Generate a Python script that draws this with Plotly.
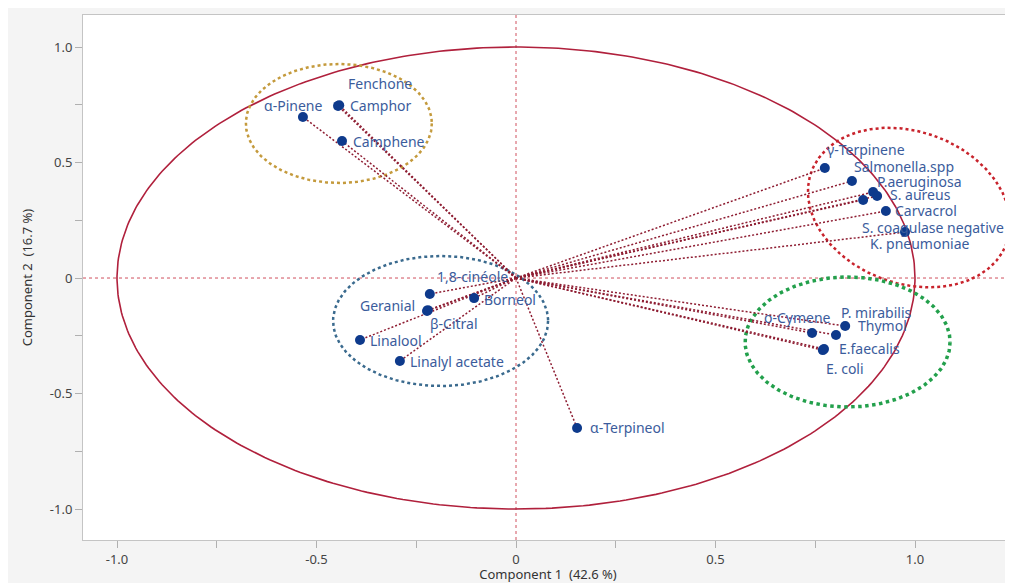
import numpy as np
import plotly.graph_objects as go

# ---------------- data (loadings) ----------------
names = ["α-Pinene", "Camphor", "Fenchone", "Camphene",
         "γ-Terpinene", "Salmonella.spp", "P.aeruginosa", "S. aureus", "Carvacrol",
         "S. coagulase negative", "K. pneumoniae",
         "o-Cymene", "P. mirabilis", "Thymol", "E.faecalis", "E. coli",
         "1,8-cinéole", "Geranial", "β-Citral", "Borneol", "Linalool", "Linalyl acetate",
         "α-Terpineol"]
comp1 = [-0.534, -0.446, -0.443, -0.436,
         0.774, 0.842, 0.895, 0.905, 0.927,
         0.975, 0.870,
         0.742, 0.802, 0.825, 0.772, 0.769,
         -0.216, -0.221, -0.223, -0.105, -0.391, -0.291,
         0.153]
comp2 = [0.697, 0.745, 0.748, 0.593,
         0.476, 0.420, 0.372, 0.355, 0.290,
         0.199, 0.338,
         -0.238, -0.247, -0.208, -0.307, -0.312,
         -0.069, -0.139, -0.143, -0.087, -0.268, -0.359,
         -0.649]
xtick_vals = [-1.0, -0.75, -0.5, -0.25, 0, 0.25, 0.5, 0.75, 1.0]
xtick_text = ["-1.0", "", "-0.5", "", "0", "", "0.5", "", "1.0"]
ytick_vals = [-1.0, -0.75, -0.5, -0.25, 0, 0.25, 0.5, 0.75, 1.0]
ytick_text = ["-1.0", "", "-0.5", "", "0", "", "0.5", "", "1.0"]
x_title = "Component 1  (42.6 %)"
y_title = "Component 2  (16.7 %)"

# ---------------- style ----------------
# the page adds an 8px body margin, so the figure is sized to fit the window
W, H = 1005, 575
M = dict(l=75, r=0, t=7, b=43)
XR = [-1.0852, 1.2456]
YR = [-1.134, 1.1385]
pxx = (W - M["l"] - M["r"]) / (XR[1] - XR[0])
pxy = (H - M["t"] - M["b"]) / (YR[1] - YR[0])

FONT = "Noto Sans"
LABEL_COLOR = "#3b5c9c"
POINT_COLOR = "#0e3a8c"
LOAD_COLOR = "#8e1d32"
LABEL_SIZE = 14

# label placement: (xanchor, xshift px, yshift px)
label_pos = {
    "α-Pinene": ("right", 22, 12), "Camphor": ("left", 10, 0),
    "Fenchone": ("left", 7, 22), "Camphene": ("left", 9, 0),
    "γ-Terpinene": ("left", 0, 19), "Salmonella.spp": ("left", 0, 14),
    "P.aeruginosa": ("left", 2, 11), "S. aureus": ("left", 11, 2),
    "Carvacrol": ("left", 7, 1), "S. coagulase negative": ("left", -45, 5),
    "K. pneumoniae": ("left", 5, -44),
    "o-Cymene": ("left", -50, 16), "P. mirabilis": ("left", 3, 23),
    "Thymol": ("left", 11, 1), "E.faecalis": ("left", 13, 0),
    "E. coli": ("left", 1, -18),
    "1,8-cinéole": ("left", 5, 17), "Geranial": ("right", -11, 5),
    "β-Citral": ("left", 1, -12), "Borneol": ("left", 8, -1),
    "Linalool": ("left", 8, -1), "Linalyl acetate": ("left", 8, -1),
    "α-Terpineol": ("left", 11, 0),
}

# group ellipses: center (data), semi-axes (px), rotation (deg, screen clockwise), colour, width
ellipses = [
    dict(c=(-0.444, 0.669), a=93, b=59.5, rot=0, color="#c49a3c", w=2.5),
    dict(c=(0.985, 0.305), a=104, b=76, rot=20, color="#c8232c", w=2.5),
    dict(c=(0.831, -0.277), a=102.5, b=65, rot=0, color="#23a04c", w=3.5),
    dict(c=(-0.189, -0.186), a=107.5, b=65, rot=0, color="#3a6a8e", w=2.5),
]

fig = go.Figure()

# unit circle
t = np.linspace(0, 2 * np.pi, 400)
fig.add_trace(go.Scatter(x=np.cos(t), y=np.sin(t), mode="lines",
                         line=dict(color="#b0203c", width=1.6),
                         hoverinfo="skip", showlegend=False))

# group ellipses
for e in ellipses:
    th = np.deg2rad(e["rot"])
    ox = e["a"] * np.cos(t) * np.cos(th) - e["b"] * np.sin(t) * np.sin(th)
    oy = e["a"] * np.cos(t) * np.sin(th) + e["b"] * np.sin(t) * np.cos(th)
    fig.add_trace(go.Scatter(x=e["c"][0] + ox / pxx, y=e["c"][1] - oy / pxy,
                             mode="lines",
                             line=dict(color=e["color"], width=e["w"], dash="dot"),
                             hoverinfo="skip", showlegend=False))

# loading lines from origin
lx, ly = [], []
for x, y in zip(comp1, comp2):
    lx += [0, x, None]
    ly += [0, y, None]
fig.add_trace(go.Scatter(x=lx, y=ly, mode="lines",
                         line=dict(color=LOAD_COLOR, width=1.5, dash="2px,2px"),
                         hoverinfo="skip", showlegend=False))

# points
fig.add_trace(go.Scatter(x=comp1, y=comp2, mode="markers",
                         marker=dict(color=POINT_COLOR, size=10),
                         text=names, hoverinfo="text", showlegend=False))

# labels
for n, x, y in zip(names, comp1, comp2):
    anc, dx, dy = label_pos[n]
    fig.add_annotation(x=x, y=y, text=n, showarrow=False, xanchor=anc,
                       yanchor="middle", xshift=dx, yshift=dy,
                       font=dict(family=FONT, size=LABEL_SIZE, color=LABEL_COLOR))

# reference cross lines
fig.add_shape(type="line", xref="x", yref="paper", x0=0, x1=0, y0=0, y1=1,
              line=dict(color="#d0505e", width=1, dash="dot"), layer="below")
fig.add_shape(type="line", xref="paper", yref="y", x0=0, x1=1, y0=0, y1=0,
              line=dict(color="#d0505e", width=1, dash="dot"), layer="below")

axis_common = dict(showgrid=False, zeroline=False, showline=True,
                   linecolor="#c4c4c4", linewidth=1, ticks="outside",
                   ticklen=7, tickcolor="#b0b0b0",
                   tickfont=dict(family=FONT, size=13, color="#444444"))
fig.update_xaxes(range=XR, tickvals=xtick_vals, ticktext=xtick_text, mirror=True,
                 title=dict(text=x_title, font=dict(family=FONT, size=13, color="#333333"),
                            standoff=2),
                 **axis_common)
fig.update_yaxes(range=YR, tickvals=ytick_vals, ticktext=ytick_text, mirror=False,
                 title=dict(text=y_title, font=dict(family=FONT, size=13, color="#333333"),
                            standoff=14),
                 **axis_common)

fig.update_layout(width=W, height=H, margin=M,
                  paper_bgcolor="#f4f4f4", plot_bgcolor="white",
                  font=dict(family=FONT))

fig.write_html("out.html")
